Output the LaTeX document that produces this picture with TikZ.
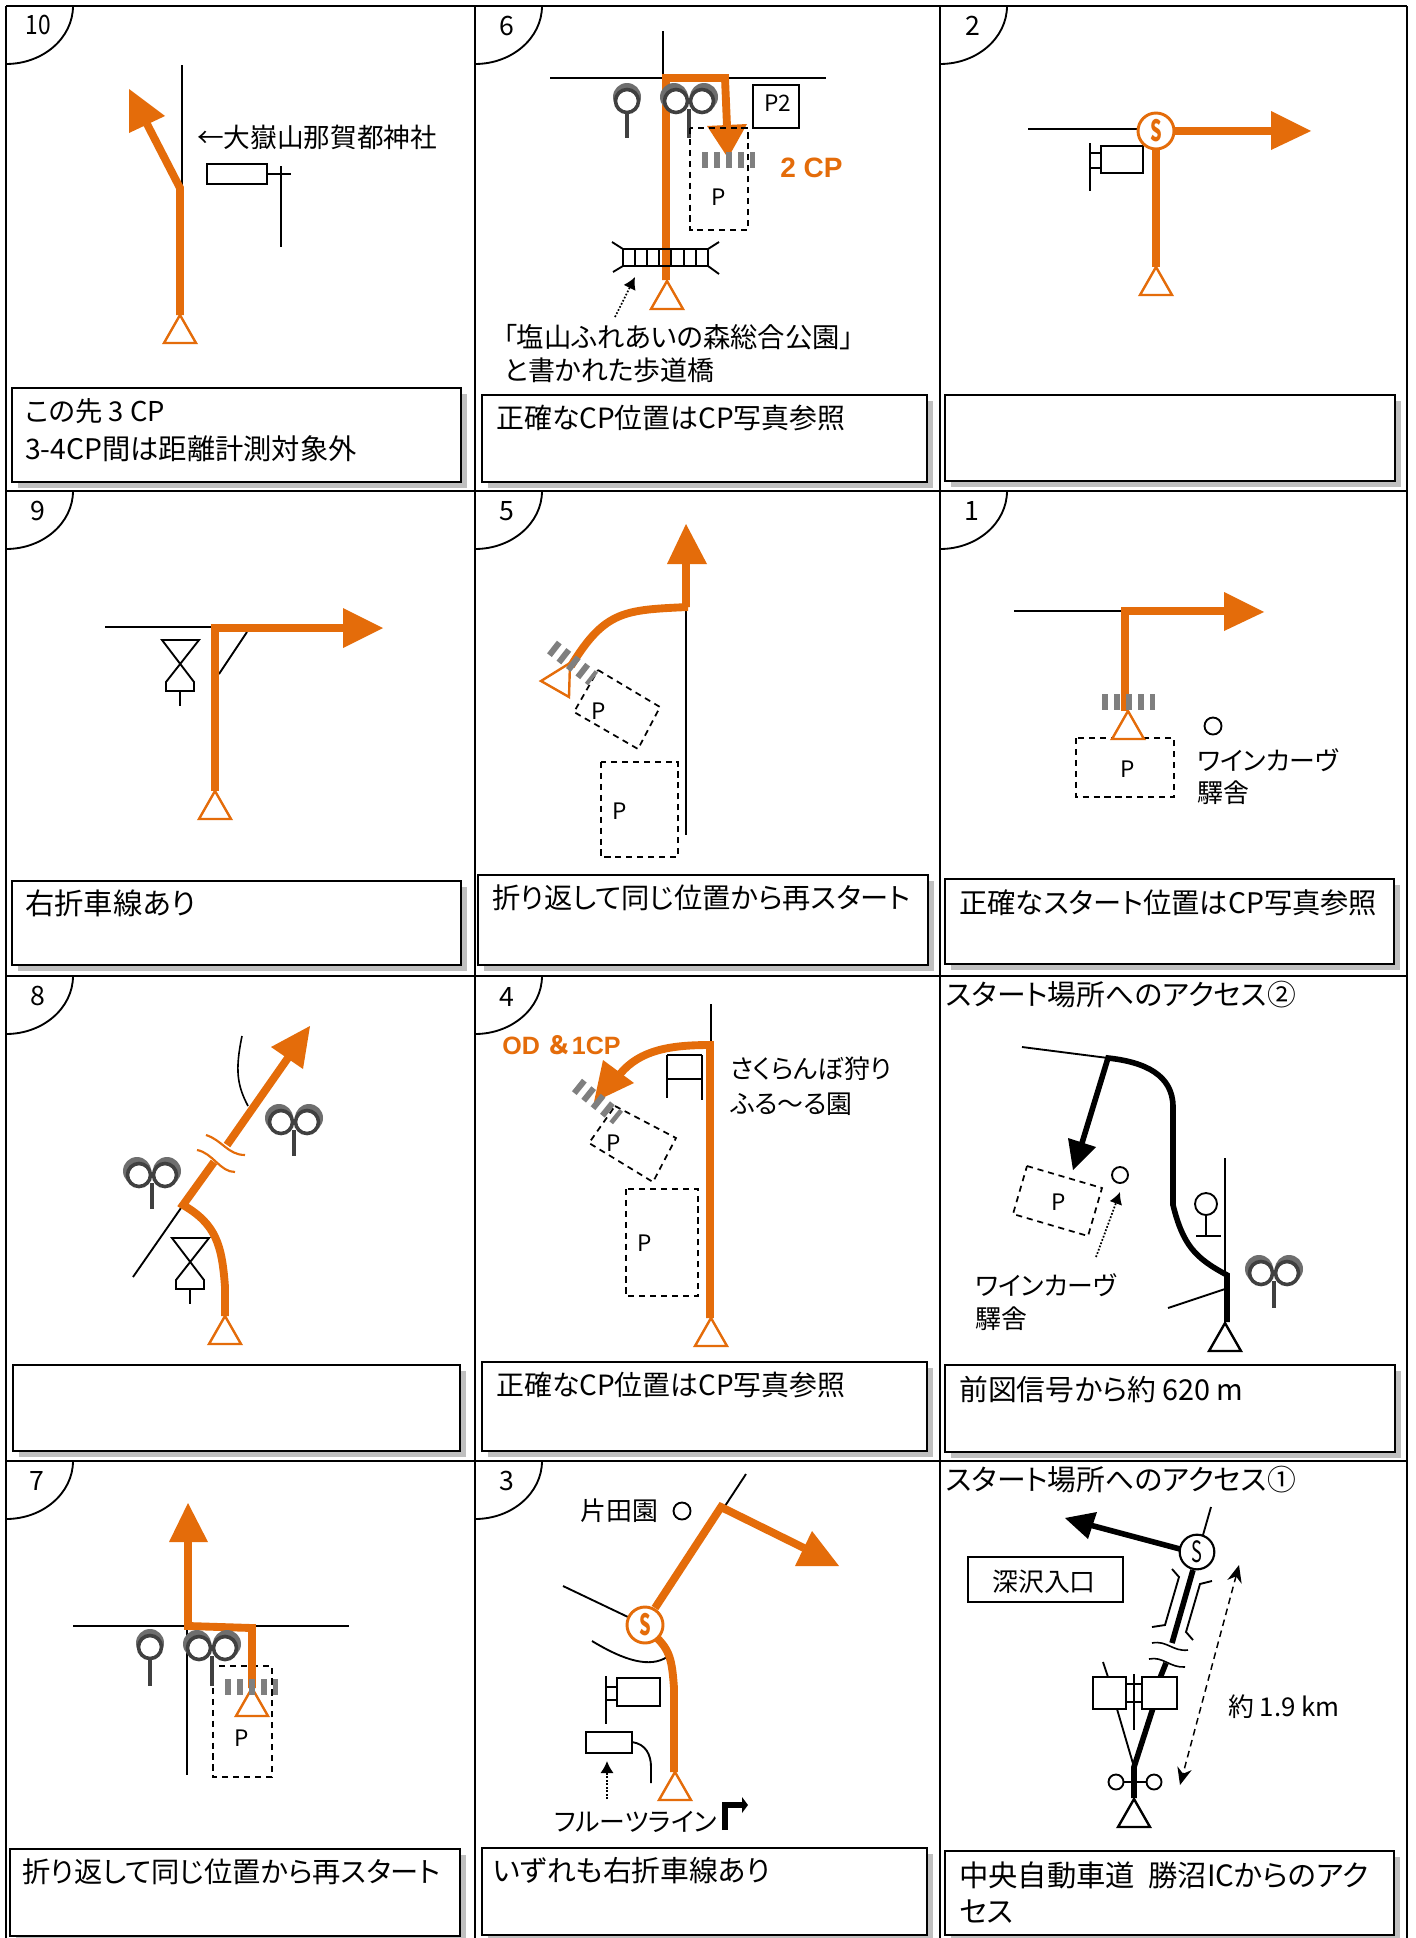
\documentclass[tikz,border=0pt]{standalone}
\usepackage{fontspec}
\setmainfont{Noto Sans CJK JP}[RawFeature=+palt]
\newfontfamily\arialfont{Liberation Sans}
\newfontfamily\jpfull{Noto Sans CJK JP}
\usetikzlibrary{arrows.meta}
\definecolor{rtorange}{HTML}{E46C0A}
\definecolor{shadowgrey}{HTML}{BFBFBF}
\definecolor{tickgrey}{HTML}{7F7F7F}
\definecolor{sigdark}{HTML}{404040}
\definecolor{sigback}{HTML}{6E6E6E}
\tikzset{
  gridline/.style={draw=black,line width=2.2pt},
  road/.style={draw=black,line width=1.4pt},
  thinroad/.style={draw=black,line width=1.2pt},
  route/.style={draw=rtorange,line width=5.9pt},
  blackroute/.style={draw=black,line width=4.2pt},
  cbox/.style={draw=black,line width=1.6pt,fill=white},
  pbox/.style={draw=black,line width=1.3pt,dash pattern=on 4.6pt off 3.6pt},
  cpticks/.style={draw=tickgrey,line width=12pt,dash pattern=on 4.5pt off 4.5pt},
  dotarrow/.style={draw=black,line width=1.3pt,dash pattern=on 1.3pt off 1.3pt,-{Latex[length=9pt,width=10pt]}},
  txtbig/.style={anchor=west,inner sep=0pt,font=\fontsize{21.2}{25}\selectfont},
  txtbigger/.style={anchor=west,inner sep=0pt,font=\fontsize{22}{26}\selectfont},
  txtlab/.style={anchor=west,inner sep=0pt,font=\fontsize{19.4}{23}\selectfont},
  txtwide/.style={anchor=west,inner sep=0pt,font=\fontsize{21.6}{25}\selectfont},
  pnum/.style={inner sep=0pt,font=\fontsize{20}{22}\selectfont},
  plabel/.style={inner sep=0pt,font=\fontsize{17}{20}\selectfont},
  smark/.style={circle,fill=white,minimum size=27pt,inner sep=0pt,font=\fontsize{22}{24}\selectfont},
}
\newcommand{\cornerArc}[2]{\draw[road] (#1,#2+58) .. controls (#1+37,#2+58) and (#1+67,#2+32) .. (#1+67,#2);}
\newcommand{\commentBox}[4]{%
  \fill[shadowgrey] (#1+6,#2+6) rectangle (#3+6,#4+6);
  \draw[cbox] (#1,#2) rectangle (#3,#4);}
\newcommand{\startTri}[3]{\draw[draw=#3,fill=white,line width=1.8pt,line join=miter] (#1,#2) -- ++(-16,28) -- ++(32,0) -- cycle;}
\newcommand{\sigOne}[3]{%
  \fill[sigback] (#1,#2-4) circle[radius=14];
  \draw[draw=sigdark,fill=white,line width=2.7pt] (#1,#2) circle[radius=11.5];
  \draw[draw=sigdark,line width=2.7pt] (#1,#2+12) -- (#1,#3);}
\newcommand{\sigTwo}[3]{%
  \fill[sigback] (#1-15,#2-4) circle[radius=14];
  \fill[sigback] (#1+15,#2-4) circle[radius=14];
  \draw[draw=sigdark,fill=white,line width=2.7pt] (#1-13,#2) circle[radius=11.5];
  \draw[draw=sigdark,fill=white,line width=2.7pt] (#1+13,#2) circle[radius=11.5];
  \draw[draw=sigdark,line width=2.7pt] (#1,#2+8) -- (#1,#3);}
\newcommand{\hourGlass}[2]{\draw[road] (#1-18,#2) -- (#1+19,#2) -- (#1-14,#2+42) -- (#1-14,#2+51) -- (#1+14,#2+51) -- (#1+14,#2+42) -- cycle;
  \draw[road] (#1,#2+51) -- (#1,#2+66);}
\begin{document}
\begin{tikzpicture}[x=.75pt,y=-.75pt]
\useasboundingbox (0,0) rectangle (1415,1938);
\fill[white] (0,0) rectangle (1415,1938);
% comment boxes
\commentBox{12}{388}{461}{482}
\commentBox{482}{395}{927}{482}
\commentBox{945}{395}{1395}{481}
\commentBox{12}{881}{461}{965}
\commentBox{478}{875}{928}{965}
\commentBox{945}{879}{1394}{964}
\commentBox{13}{1365}{460}{1451}
\commentBox{482}{1362}{927}{1451}
\commentBox{945}{1365}{1395}{1452}
\commentBox{10}{1849}{460}{1936}
\commentBox{482}{1848}{927}{1935}
\commentBox{945}{1851}{1394}{1935}
% grid
\draw[gridline] (6,6) -- (1407,6);
\draw[gridline] (6,491) -- (1407,491);
\draw[gridline] (6,976) -- (1407,976);
\draw[gridline] (6,1461) -- (1407,1461);
\draw[gridline] (6,6) -- (6,1938);
\draw[gridline] (475,6) -- (475,1938);
\draw[gridline] (940,6) -- (940,1938);
\draw[gridline] (1407,6) -- (1407,1938);
% corner arcs
\cornerArc{6}{6}\cornerArc{475}{6}\cornerArc{940}{6}
\cornerArc{6}{491}\cornerArc{475}{491}\cornerArc{940}{491}
\cornerArc{6}{976}\cornerArc{475}{976}
\cornerArc{6}{1461}\cornerArc{475}{1461}
\node[pnum] (n10) at (38,25) {\scalebox{.85}[1]{10}};
\node[pnum] (n6) at (507,26) {6};
\node[pnum] (n2) at (973,26) {2};
\node[pnum] (n9) at (38,511) {9};
\node[pnum] (n5) at (507,511) {5};
\node[pnum] (n1) at (972,511) {1};
\node[pnum] (n8) at (38,996) {8};
\node[pnum] (n4) at (507,997) {4};
\node[pnum] (n7) at (37,1481) {7};
\node[pnum] (n3) at (507,1481) {3};
% box texts
\node[txtbig,font=\fontsize{20.5}{25}\selectfont] (t10a) at (25,411) {この先 3 CP};
\node[txtbig] (t10b) at (25,449) {3-4CP間は距離計測対象外};
\node[txtbig,font=\fontsize{20.9}{25}\selectfont] (t6) at (496,418) {正確なCP位置はCP写真参照};
\node[txtbigger] (t9) at (25,903) {右折車線あり};
\node[txtbig] (t5) at (492,898) {折り返して同じ位置から再スタート};
\node[txtbig] (t1) at (959,903) {正確なスタート位置はCP写真参照};
\node[txtbig,font=\fontsize{20.9}{25}\selectfont] (t4) at (496,1385) {正確なCP位置はCP写真参照};
\node[txtwide] (tb) at (959,1389) {前図信号から約 620 m};
\node[txtbig] (t7) at (22,1872) {折り返して同じ位置から再スタート};
\node[txtwide] (t3) at (493,1871) {いずれも右折車線あり};
\node[txtbigger] (ta1) at (959,1875) {中央自動車道\ \ 勝沼ICからのアク};
\node[txtbigger] (ta2) at (959,1912) {セス};
\node[txtwide] (acc2) at (946,995) {スタート場所へのアクセス②};
\node[txtwide] (acc1) at (946,1480) {スタート場所へのアクセス①};

% ---------- panel 10
\draw[road] (182,65) -- (182,185);
\draw[route] (180,315) -- (180,188) -- (147,124);
\fill[rtorange] (129,89) -- (165,116) -- (129,133) -- cycle;
\startTri{180}{315}{rtorange}
\draw[road,fill=white] (207,164) rectangle (267,184);
\draw[road] (267,174) -- (291,174);
\draw[road] (281,166) -- (281,247);
\node[txtlab,font=\fontsize{20}{23}\selectfont] (l10) at (197,137) {←大嶽山那賀都神社};

% ---------- panel 6
\draw[road] (663,31) -- (663,78);
\draw[road] (550,78) -- (826,78);
\draw[route] (666,280) -- (666,78) -- (725,78) -- (727,126);
\sigOne{627}{101}{138}
\sigTwo{689}{101}{138}
\fill[rtorange] (728,158) -- (707,126) -- (747,124) -- cycle;
\draw[pbox] (690,128) rectangle (748,230);
\draw[cpticks] (702,160) -- (755,160);
\node[plabel] (p6) at (719,197) {P};
\draw[road,fill=white] (753,85) rectangle (799,128);
\node[plabel] (p62) at (778,103) {P2};
\node[anchor=west,inner sep=0pt,text=rtorange,font=\arialfont\bfseries\fontsize{21}{24}\selectfont] (cp2) at (780,168) {2 CP};
\foreach \bx in {623,635,647,659,671,684,696,708}{\draw[road] (\bx,249) -- (\bx,266);}
\draw[road] (623,249) -- (708,249);
\draw[road] (623,266) -- (708,266);
\draw[road] (623,249) -- (612,242);
\draw[road] (708,249) -- (719,242);
\draw[road] (623,266) -- (613,272);
\draw[road] (708,266) -- (719,274);
\startTri{667}{281}{rtorange}
\coordinate (d6a) at (615,317);
\coordinate (d6b) at (635,277);
\draw[dotarrow] (d6a) -- (d6b);
\node[txtlab,font=\fontsize{20.5}{25}\selectfont] (l6a) at (503,337) {「塩山ふれあいの森総合公園」};
\node[txtlab,font=\fontsize{20.2}{25}\selectfont] (l6b) at (504,370) {と書かれた歩道橋};

% ---------- panel 2
\draw[road] (1028,129) -- (1137,129);
\draw[road,fill=white] (1101,146) rectangle (1143,173);
\draw[road] (1090,143) -- (1090,191);
\draw[road] (1090,153) -- (1101,153);
\draw[road] (1090,168) -- (1101,168);
\draw[route] (1156,267) -- (1156,131) -- (1272,131);
\fill[rtorange] (1311,131) -- (1271,111) -- (1271,150) -- cycle;
\node[smark,draw=rtorange,line width=2.2pt,text=rtorange] (s2) at (1156,131) {\scalebox{.62}[1]{\bfseries S}};
\startTri{1156}{267}{rtorange}

% ---------- panel 9
\draw[road] (105,627) -- (212,627);
\draw[road] (247,632) -- (219,674);
\hourGlass{180}{640}
\draw[route] (215,791) -- (215,628) -- (343,628);
\fill[rtorange] (383,628) -- (343,608) -- (343,648) -- cycle;
\startTri{215}{791}{rtorange}

% ---------- panel 5
\draw[road] (686,610) -- (686,835);
\draw[route] (571,666) .. controls (605,610) and (625,610) .. (688,607) -- (686,607) -- (686,564);
\fill[rtorange] (686,524) -- (667,564) -- (707,564) -- cycle;
\draw[pbox] (598,670) -- (660,707) -- (638,749) -- (574,712) -- cycle;
\node[plabel] (p5a) at (599,711) {P};
\draw[pbox] (601,762) rectangle (678,857);
\node[plabel] (p5b) at (620,811) {P};
\draw[draw=rtorange,fill=white,line width=1.8pt] (541,681) -- (570,663) -- (569,697) -- cycle;
\draw[cpticks] (552,647) -- (593,679);

% ---------- panel 1
\draw[road] (1014,611) -- (1122,611);
\draw[route] (1125,711) -- (1125,611) -- (1225,611);
\fill[rtorange] (1264,612) -- (1224,592) -- (1224,631) -- cycle;
\draw[pbox] (1076,738) rectangle (1174,797);
\node[plabel] (p1) at (1128,769) {P};
\startTri{1128}{711}{rtorange}
\draw[cpticks] (1102,702) -- (1155,702);
\draw[road] (1213,726) circle[radius=8.5];
\node[txtlab] (l1a) at (1197,760) {ワインカーヴ};
\node[txtlab] (l1b) at (1197,793) {驛舎};

% ---------- panel 8
\draw[road] (181,1208) -- (133,1277);
\draw[thinroad] (242,1036) .. controls (235,1070) and (237,1085) .. (248,1106);
\hourGlass{190}{1238}
\sigTwo{294}{1122}{1156}
\sigTwo{152}{1175}{1209}
\draw[route] (225,1316) -- (225,1287) .. controls (222,1245) and (216,1224) .. (183,1205) -- (214,1162);
\draw[route] (227,1145) -- (290,1055);
\fill[rtorange] (310,1026) -- (271,1047) -- (303,1069) -- cycle;
\draw[rtorange,line width=1.6pt] (206,1135) .. controls (222,1140) and (228,1155) .. (245,1155);
\draw[rtorange,line width=1.6pt] (197,1150) .. controls (213,1153) and (220,1172) .. (235,1172);
\startTri{225}{1316}{rtorange}

% ---------- panel 4
\draw[road] (711,1004) -- (711,1042);
\draw[road] (667,1055) -- (667,1098);
\draw[road] (702,1055) -- (702,1100);
\draw[road] (667,1055) -- (702,1055);
\draw[road] (667,1079) -- (702,1079);
\draw[route] (710,1318) -- (710,1045) .. controls (670,1045) and (640,1050) .. (620,1074);
\fill[rtorange] (594,1102) -- (603,1060) -- (634,1083) -- cycle;
\draw[pbox] (615,1106) -- (676,1138) -- (653,1182) -- (589,1143) -- cycle;
\node[plabel] (p4a) at (614,1143) {P};
\draw[pbox] (626,1189) rectangle (698,1296);
\node[plabel] (p4b) at (645,1243) {P};
\draw[cpticks] (577,1085) -- (618,1118);
\startTri{711}{1318}{rtorange}
\node[anchor=west,inner sep=0pt,text=rtorange,font=\fontsize{18.8}{21}\selectfont] (od) at (502,1045) {{\arialfont\bfseries OD\ }{\jpfull\bfseries ＆}{\arialfont\bfseries 1CP}};
\node[txtlab] (l4a) at (730,1069) {さくらんぼ狩り};
\node[txtlab] (l4b) at (730,1104) {ふる～る園};

% ---------- panel access 2
\draw[road] (1022,1047) -- (1108,1058);
\draw[road] (1225,1158) -- (1225,1275);
\draw[road] (1168,1308) -- (1225,1289);
\draw[road] (1206,1204) circle[radius=11];
\draw[road] (1206,1215) -- (1206,1236);
\draw[road] (1196,1236) -- (1221,1236);
\sigTwo{1274}{1273}{1308}
\draw[blackroute] (1227,1322) -- (1227,1275) .. controls (1195,1258) and (1183,1245) .. (1173,1205) -- (1173,1107) .. controls (1173,1075) and (1145,1062) .. (1108,1058) -- (1082,1143);
\fill[black] (1073,1170) -- (1068,1138) -- (1096,1147) -- cycle;
\startTri{1225}{1323}{black}
\draw[pbox] (1027,1166) -- (1102,1188) -- (1088,1236) -- (1013,1214) -- cycle;
\node[plabel] (pb) at (1059,1202) {P};
\draw[road] (1120,1175) circle[radius=8];
\coordinate (d2a) at (1096,1257);
\coordinate (d2b) at (1120,1192);
\draw[dotarrow] (d2a) -- (d2b);
\node[txtlab] (l2a) at (975,1285) {ワインカーヴ};
\node[txtlab] (l2b) at (975,1319) {驛舎};

% ---------- panel 7
\draw[road] (73,1626) -- (349,1626);
\draw[road] (187,1629) -- (187,1775);
\draw[pbox] (213,1666) rectangle (272,1777);
\draw[route] (252,1688) -- (252,1628) -- (188,1626) -- (188,1542);
\sigOne{150}{1647}{1686}
\sigTwo{212}{1648}{1686}
\fill[rtorange] (188,1503) -- (169,1542) -- (208,1542) -- cycle;
\startTri{252}{1688}{rtorange}
\draw[cpticks] (225,1687) -- (278,1687);
\node[plabel] (p7) at (242,1738) {P};

% ---------- panel 3
\draw[road] (746,1474) -- (725,1506);
\draw[road] (563,1586) -- (628,1617);
\draw[road] (592,1641) .. controls (625,1661) and (650,1668) .. (667,1657);
\draw[road,fill=white] (617,1678) rectangle (660,1706);
\draw[road] (606,1676) -- (606,1724);
\draw[road] (606,1687) -- (617,1687);
\draw[road] (606,1700) -- (617,1700);
\draw[road,fill=white] (586,1732) rectangle (632,1753);
\draw[road] (632,1742) .. controls (646,1744) and (651,1755) .. (651,1767) -- (651,1783);
\coordinate (d3a) at (607,1799);
\coordinate (d3b) at (607,1761);
\draw[dotarrow] (d3a) -- (d3b);
\draw[road] (682,1511) circle[radius=8.5];
\draw[route] (674,1772) -- (674,1688) .. controls (672,1660) and (670,1650) .. (655,1636);
\draw[route] (655,1608) -- (721,1507) -- (804,1548);
\fill[rtorange] (839,1566) -- (812,1531) -- (795,1566) -- cycle;
\node[smark,draw=rtorange,line width=2.2pt,text=rtorange] (s3) at (645,1625) {\scalebox{.62}[1]{\bfseries S}};
\startTri{675}{1772}{rtorange}
\node[txtlab] (l3a) at (580,1511) {片田園};
\node[txtlab] (l3b) at (554,1822) {フルーツライン};
\draw[black,line width=4.4pt] (725,1830) -- (725,1805) -- (742,1805);
\fill[black] (748,1805) -- (742,1797) -- (742,1813) -- cycle;

% ---------- panel access 1
\draw[road] (1211,1507) -- (1203,1535);
\draw[blackroute] (1180,1549) -- (1090,1525);
\fill[black] (1065,1518) -- (1097,1512) -- (1088,1539) -- cycle;
\draw[blackroute] (1193,1570) -- (1172,1643);
\draw[blackroute] (1166,1663) -- (1160,1678);
\draw[blackroute] (1153,1708) -- (1134,1767) -- (1134,1798);
\node[smark,draw=black,line width=1.6pt,minimum size=26pt] (s1) at (1197,1552) {\scalebox{.62}[1]{S}};
\draw[road] (1172,1569) -- (1179,1577) -- (1165,1625) -- (1152,1627);
\draw[road] (1212,1581) -- (1200,1584) -- (1186,1632) -- (1193,1640);
\draw[thinroad] (1152,1643) .. controls (1167,1640) and (1173,1652) .. (1188,1650);
\draw[thinroad] (1149,1659) .. controls (1163,1656) and (1170,1668) .. (1185,1667);
\draw[road] (1103,1662) -- (1108,1677);
\draw[road] (1134,1674) -- (1134,1730);
\draw[road] (1126,1684) -- (1142,1684);
\draw[road] (1126,1702) -- (1142,1702);
\draw[road,fill=white] (1093,1677) rectangle (1126,1709);
\draw[road,fill=white] (1142,1677) rectangle (1177,1709);
\draw[road] (1117,1709) -- (1134,1767);
\draw[road] (1116,1782) circle[radius=7.5];
\draw[road] (1154,1782) circle[radius=7.5];
\draw[road] (1123.5,1782) -- (1146.5,1782);
\startTri{1134}{1799}{black}
\draw[draw=black,line width=1.3pt,fill=white] (968,1557) rectangle (1123,1602);
\node[txtlab,anchor=center] (fuk) at (1044,1582) {深沢入口};
\coordinate (da) at (1239,1565);
\coordinate (db) at (1180,1785);
\draw[draw=black,line width=1.1pt,dash pattern=on 5pt off 3.5pt,{Stealth[length=13pt,width=11pt]}-{Stealth[length=13pt,width=11pt]}] (da) -- (db);
\node[txtlab] (km) at (1228,1707) {約 1.9 km};
\end{tikzpicture}
\end{document}
